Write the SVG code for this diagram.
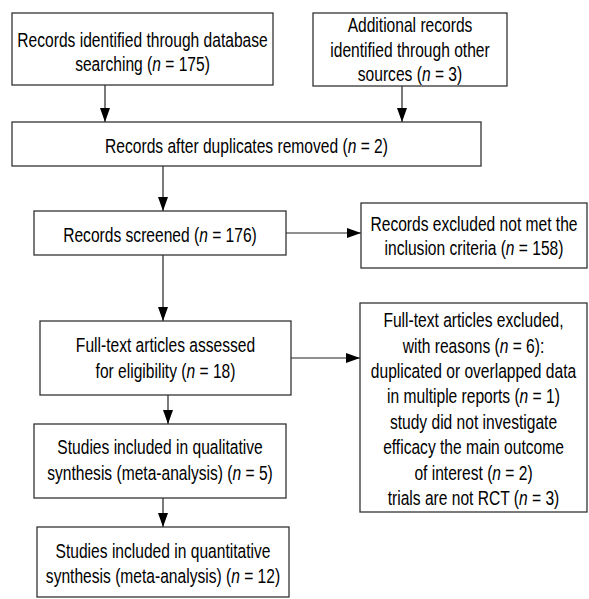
<svg xmlns="http://www.w3.org/2000/svg" width="589" height="599" viewBox="0 0 589 599">
<style>
.box{fill:#fff;stroke:#333;stroke-width:1.3}
text{font-family:"Liberation Sans",Arial,sans-serif;font-size:19.5px;fill:#000;text-anchor:middle}
.i{font-style:italic}
.c line{stroke:#222;stroke-width:1.2;marker-end:url(#ah)}
</style>
<defs>
<marker id="ah" markerUnits="userSpaceOnUse" markerWidth="14" markerHeight="10" refX="14" refY="5" orient="auto">
<path d="M0,0 L14,5 L0,10 z" fill="#000"/>
</marker>
</defs>
<rect width="589" height="599" fill="#fff"/>
<g class="c" id="connectors">
<line x1="105" y1="85" x2="105" y2="122"/>
<line x1="402" y1="86" x2="402" y2="122"/>
<line x1="163" y1="166" x2="163" y2="211"/>
<line x1="286" y1="233" x2="361" y2="233"/>
<line x1="163" y1="255" x2="163" y2="321"/>
<line x1="291" y1="358" x2="360" y2="358"/>
<line x1="168" y1="395" x2="168" y2="424"/>
<line x1="163" y1="498" x2="163" y2="527"/>
</g>
<g id="n1"><rect class="box" x="12" y="13" width="261" height="72"/>
<g transform="matrix(0.8 0 0 1 142.5 0)">
<text x="0" y="47">Records identified through database</text>
<text x="0" y="71">searching (<tspan class="i">n</tspan> = 175)</text></g></g>
<g id="n2"><rect class="box" x="313" y="13" width="194" height="73"/>
<g transform="matrix(0.8 0 0 1 410 0)">
<text x="0" y="32">Additional records</text>
<text x="0" y="57">identified through other</text>
<text x="0" y="81">sources (<tspan class="i">n</tspan> = 3)</text></g></g>
<g id="n3"><rect class="box" x="12" y="122" width="469" height="44"/>
<g transform="matrix(0.8 0 0 1 246.5 0)">
<text x="0" y="153">Records after duplicates removed (<tspan class="i">n</tspan> = 2)</text></g></g>
<g id="n4"><rect class="box" x="34" y="211" width="252" height="44"/>
<g transform="matrix(0.8 0 0 1 160 0)">
<text x="0" y="242">Records screened (<tspan class="i">n</tspan> = 176)</text></g></g>
<g id="n5"><rect class="box" x="361" y="203" width="226" height="65"/>
<g transform="matrix(0.8 0 0 1 474 0)">
<text x="0" y="231">Records excluded not met the</text>
<text x="0" y="255">inclusion criteria (<tspan class="i">n</tspan> = 158)</text></g></g>
<g id="n6"><rect class="box" x="40" y="321" width="251" height="74"/>
<g transform="matrix(0.8 0 0 1 165.5 0)">
<text x="0" y="352">Full-text articles assessed</text>
<text x="0" y="378">for eligibility (<tspan class="i">n</tspan> = 18)</text></g></g>
<g id="n7"><rect class="box" x="360" y="303" width="227" height="209"/>
<g transform="matrix(0.8 0 0 1 473.5 0)">
<text x="0" y="327">Full-text articles excluded,</text>
<text x="0" y="353">with reasons (<tspan class="i">n</tspan> = 6):</text>
<text x="0" y="378">duplicated or overlapped data</text>
<text x="0" y="403">in multiple reports (<tspan class="i">n</tspan> = 1)</text>
<text x="0" y="429">study did not investigate</text>
<text x="0" y="454">efficacy the main outcome</text>
<text x="0" y="480">of interest (<tspan class="i">n</tspan> = 2)</text>
<text x="0" y="505">trials are not RCT (<tspan class="i">n</tspan> = 3)</text></g></g>
<g id="n8"><rect class="box" x="34" y="424" width="252" height="74"/>
<g transform="matrix(0.8 0 0 1 160 0)">
<text x="0" y="454">Studies included in qualitative</text>
<text x="0" y="480">synthesis (meta-analysis) (<tspan class="i">n</tspan> = 5)</text></g></g>
<g id="n9"><rect class="box" x="37" y="527" width="252" height="70"/>
<g transform="matrix(0.8 0 0 1 163 0)">
<text x="0" y="558">Studies included in quantitative</text>
<text x="0" y="583">synthesis (meta-analysis) (<tspan class="i">n</tspan> = 12)</text></g></g>
</svg>
